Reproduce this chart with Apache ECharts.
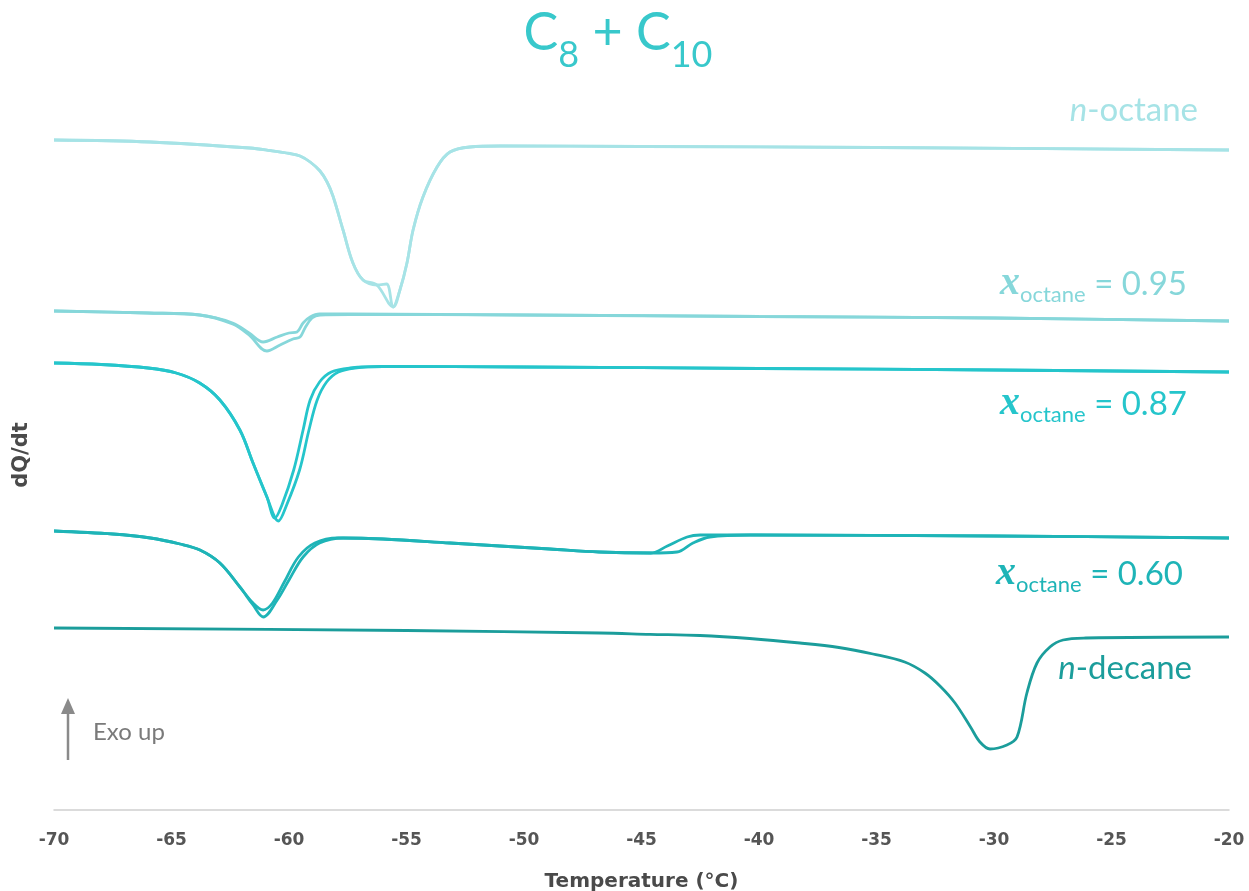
<!DOCTYPE html>
<html>
<head>
<meta charset="utf-8">
<title>C8 + C10 DSC</title>
<script src="https://cdn.jsdelivr.net/npm/echarts@6/dist/echarts.min.js"></script>
<style>
  html, body { margin: 0; padding: 0; background: #ffffff; }
  #chart { width: 1249px; height: 891px; }
</style>
</head>
<body>
<div id="chart"></div>
<script>
// Heat-flow traces (temperature in °C, dQ/dt in arbitrary offset units), two runs per blend.
const octaneRun1 = [[-70, 67.0], [-65.9, 66.8], [-61.66, 66.2], [-60.8, 65.95], [-59.96, 65.65], [-59.53, 65.4], [-59.1, 64.8], [-58.68, 63.9], [-58.38, 62.8], [-58.13, 61.4], [-57.7, 58.0], [-57.28, 54.7], [-56.85, 53.0], [-56.26, 52.5], [-55.57, 50.3], [-55.28, 52.0], [-54.98, 54.7], [-54.72, 58.0], [-54.3, 61.3], [-53.7, 64.3], [-53.15, 65.8], [-52.3, 66.3], [-51, 66.4], [-45, 66.35], [-35, 66.25], [-20, 66.0]];
const octaneRun2 = [[-70, 67.0], [-65.9, 66.8], [-61.66, 66.2], [-60.8, 65.95], [-59.96, 65.65], [-59.53, 65.4], [-59.1, 64.8], [-58.68, 63.9], [-58.38, 62.8], [-58.13, 61.4], [-57.7, 58.0], [-57.28, 54.7], [-56.85, 53.0], [-56.26, 52.5], [-55.85, 52.6], [-55.57, 50.3], [-55.28, 52.0], [-54.98, 54.7], [-54.72, 58.0], [-54.3, 61.3], [-53.7, 64.3], [-53.15, 65.8], [-52.3, 66.3], [-51, 66.4], [-45, 66.35], [-35, 66.25], [-20, 66.0]];

const x95Run1 = [[-70, 49.9], [-66, 49.7], [-63.8, 49.5], [-62.4, 48.7], [-61.7, 47.7], [-61.1, 46.8], [-60.5, 47.3], [-60.0, 47.7], [-59.66, 47.8], [-59.4, 48.7], [-59.1, 49.3], [-58.7, 49.6], [-57.4, 49.6], [-50, 49.5], [-40, 49.35], [-30, 49.2], [-20, 48.9]];
const x95Run2 = [[-70, 49.9], [-66, 49.7], [-63.8, 49.5], [-62.4, 48.6], [-61.7, 47.5], [-60.94, 45.9], [-60.38, 46.5], [-59.83, 47.1], [-59.53, 47.3], [-59.32, 48.2], [-59.02, 49.2], [-58.68, 49.5], [-57.4, 49.55], [-50, 49.5], [-40, 49.35], [-30, 49.2], [-20, 48.9]];

const x87Run1 = [[-70, 44.7], [-68, 44.55], [-66, 44.2], [-64.8, 43.7], [-63.8, 42.7], [-62.94, 41.0], [-62.09, 38.0], [-61.53, 34.7], [-60.94, 31.3], [-60.6, 29.2], [-60.3, 30.5], [-59.8, 34.0], [-59.4, 38.0], [-59.1, 41.0], [-58.7, 42.8], [-58.2, 43.8], [-57.4, 44.2], [-56, 44.35], [-50, 44.3], [-40, 44.15], [-30, 44.0], [-20, 43.8]];
const x87Run2 = [[-70, 44.7], [-68, 44.55], [-66, 44.2], [-64.8, 43.7], [-63.8, 42.7], [-62.94, 41.0], [-62.09, 38.0], [-61.53, 34.7], [-60.94, 31.3], [-60.45, 28.9], [-60.1, 30.5], [-59.55, 34.0], [-59.15, 38.0], [-58.8, 41.0], [-58.4, 42.8], [-57.9, 43.8], [-57.2, 44.2], [-56, 44.35], [-50, 44.3], [-40, 44.15], [-30, 44.0], [-20, 43.8]];

const x60Run1 = [[-70, 27.9], [-67.5, 27.6], [-65.9, 27.2], [-64.64, 26.6], [-63.79, 26.0], [-62.94, 24.7], [-62.09, 22.3], [-61.53, 20.7], [-61.1, 20.0], [-60.7, 20.7], [-60.2, 22.8], [-59.6, 25.3], [-58.9, 26.7], [-57.9, 27.2], [-56, 27.1], [-53.15, 26.7], [-48.9, 26.1], [-46.8, 25.8], [-44.6, 25.7], [-43.9, 26.4], [-43.06, 27.3], [-42.5, 27.5], [-40, 27.5], [-30, 27.4], [-20, 27.2]];
const x60Run2 = [[-70, 27.9], [-67.5, 27.6], [-65.9, 27.2], [-64.64, 26.6], [-63.79, 26.0], [-62.94, 24.7], [-62.09, 22.3], [-61.53, 20.5], [-61.1, 19.3], [-60.5, 21.0], [-60.0, 23.0], [-59.4, 25.3], [-58.7, 26.7], [-57.7, 27.2], [-56, 27.1], [-53.15, 26.7], [-48.9, 26.1], [-46.8, 25.8], [-44.6, 25.7], [-43.49, 25.8], [-42.81, 26.7], [-42.09, 27.3], [-40.38, 27.5], [-30, 27.4], [-20, 27.2]];

const decaneRun = [[-70, 18.2], [-55, 17.95], [-46.77, 17.7], [-44.64, 17.57], [-42.51, 17.45], [-40.4, 17.15], [-38.26, 16.7], [-36.6, 16.25], [-35.15, 15.6], [-33.8, 14.8], [-32.94, 13.7], [-32.3, 12.4], [-31.66, 10.7], [-31.0, 8.3], [-30.6, 6.8], [-30.17, 6.1], [-29.45, 6.5], [-29.02, 7.3], [-28.6, 11.7], [-28.17, 14.7], [-27.62, 16.3], [-27.06, 17.0], [-26.1, 17.2], [-20, 17.3]];

const xTicks = { min: -70, max: -20, step: 5 };

const COLORS = {
  octane: '#a6e3e6',
  x95: '#86d7da',
  x87: '#25c5cb',
  x60: '#1eb4b7',
  decane: '#1b9d9b',
  title: '#38c8cb'
};

function trace(data, color) {
  return {
    type: 'line',
    data: data,
    smooth: 0.35,
    showSymbol: false,
    symbol: 'none',
    silent: true,
    lineStyle: { color: color, width: 2.8 },
    z: 3
  };
}

function xLabel(value, color, x, y) {
  return {
    type: 'text',
    x: x, y: y,
    style: {
      text: '{x|x}{s|octane}{v| = ' + value + '}',
      align: 'left', textAlign: 'left',
      verticalAlign: 'middle', textVerticalAlign: 'middle',
      fill: color,
      rich: {
        x: { fontFamily: 'Liberation Serif', fontStyle: 'italic', fontWeight: 'bold', fontSize: 40, lineHeight: 44, fill: color },
        s: { fontFamily: 'Lato', fontSize: 22, lineHeight: 16, verticalAlign: 'bottom', fill: color },
        v: { fontFamily: 'Lato', fontSize: 33, lineHeight: 44, fill: color }
      }
    }
  };
}

function nLabel(name, color, x, y) {
  return {
    type: 'text',
    x: x, y: y,
    style: {
      text: '{i|n}{r|-' + name + '}',
      align: 'right', textAlign: 'right',
      verticalAlign: 'middle', textVerticalAlign: 'middle',
      fill: color,
      rich: {
        i: { fontFamily: 'Lato', fontStyle: 'italic', fontSize: 33, fill: color },
        r: { fontFamily: 'Lato', fontSize: 33, fill: color }
      }
    }
  };
}

const chart = echarts.init(document.getElementById('chart'), null, { renderer: 'canvas' });

chart.setOption({
  animation: false,
  backgroundColor: '#ffffff',
  grid: { left: 54, right: 20, top: 90, bottom: 81, containLabel: false, outerBoundsMode: 'none' },
  xAxis: {
    type: 'value',
    min: xTicks.min,
    max: xTicks.max,
    interval: xTicks.step,
    name: 'Temperature (°C)',
    nameLocation: 'middle',
    nameGap: 62,
    nameTextStyle: { fontFamily: 'DejaVu Sans', fontWeight: 'bold', fontSize: 20, color: '#4a4a4a' },
    axisLine: { show: true, lineStyle: { color: '#cfcfcf', width: 1.5 } },
    axisTick: { show: false },
    splitLine: { show: false },
    axisLabel: { margin: 22, fontFamily: 'DejaVu Sans', fontWeight: 'bold', fontSize: 17, color: '#555555' }
  },
  yAxis: {
    type: 'value',
    min: 0,
    max: 72,
    show: false
  },
  series: [
    trace(octaneRun1, COLORS.octane),
    trace(octaneRun2, COLORS.octane),
    trace(x95Run1, COLORS.x95),
    trace(x95Run2, COLORS.x95),
    trace(x87Run1, COLORS.x87),
    trace(x87Run2, COLORS.x87),
    trace(x60Run1, COLORS.x60),
    trace(x60Run2, COLORS.x60),
    trace(decaneRun, COLORS.decane)
  ],
  graphic: [
    {
      type: 'text',
      x: 618, y: 7,
      style: {
        text: '{c|C}{s|8}{c| + C}{s|10}',
        align: 'center', textAlign: 'center',
        verticalAlign: 'top', textVerticalAlign: 'top',
        fill: COLORS.title,
        rich: {
          c: { fontFamily: 'Lato', fontSize: 52, lineHeight: 66, verticalAlign: 'top', fill: COLORS.title },
          s: { fontFamily: 'Lato', fontSize: 36, lineHeight: 15, verticalAlign: 'bottom', fill: COLORS.title }
        }
      }
    },
    // y-axis title
    {
      type: 'text',
      x: 22, y: 455,
      rotation: Math.PI / 2,
      style: {
        text: 'dQ/dt',
        align: 'center', textAlign: 'center',
        verticalAlign: 'middle', textVerticalAlign: 'middle',
        fontFamily: 'DejaVu Sans', fontWeight: 'bold', fontSize: 21, fill: '#4a4a4a'
      }
    },
    nLabel('octane', COLORS.octane, 1198, 110),
    xLabel('0.95', COLORS.x95, 1000, 284),
    xLabel('0.87', COLORS.x87, 1000, 404),
    xLabel('0.60', COLORS.x60, 996, 574),
    nLabel('decane', COLORS.decane, 1192, 668),
    // Exo up arrow
    {
      type: 'line',
      shape: { x1: 68, y1: 760, x2: 68, y2: 712 },
      style: { stroke: '#8a8a8a', lineWidth: 2.5 }
    },
    {
      type: 'polygon',
      shape: { points: [[68, 698], [61, 714], [75, 714]] },
      style: { fill: '#8a8a8a' }
    },
    {
      type: 'text',
      x: 93, y: 732,
      style: {
        text: 'Exo up',
        align: 'left', textAlign: 'left',
        verticalAlign: 'middle', textVerticalAlign: 'middle',
        fontFamily: 'Lato', fontSize: 24, fill: '#7a7a7a'
      }
    }
  ]
});
</script>
</body>
</html>
